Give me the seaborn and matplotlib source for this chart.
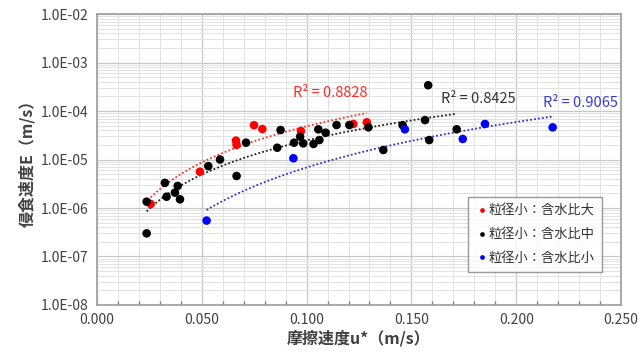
import numpy as np
import pandas as pd
import seaborn as sns
import matplotlib.pyplot as plt
from matplotlib.ticker import FuncFormatter, MultipleLocator, LogLocator

# ---- data ----
labels = ['粒径小：含水比大', '粒径小：含水比中', '粒径小：含水比小']

x_large = [0.0256, 0.0491, 0.0663, 0.0666, 0.0749, 0.0789, 0.0973, 0.1223, 0.1287]
y_large = [1.21e-6, 5.6e-6, 2.45e-5, 2.0e-5, 5.1e-5, 4.25e-5, 3.87e-5, 5.4e-5, 5.85e-5]

x_mid = [0.0237, 0.0237, 0.0324, 0.0332, 0.0372, 0.0385, 0.0396, 0.0531, 0.0587,
         0.0666, 0.0711, 0.0860, 0.0876, 0.0940, 0.0969, 0.0984, 0.1033, 0.1056,
         0.1061, 0.1091, 0.1143, 0.1204, 0.1295, 0.1366, 0.1458, 0.1565, 0.1580,
         0.1585, 0.1716]
y_mid = [1.35e-6, 3.0e-7, 3.3e-6, 1.71e-6, 2.07e-6, 2.85e-6, 1.51e-6, 7.3e-6, 1.0e-5,
         4.57e-6, 2.22e-5, 1.75e-5, 4.06e-5, 2.22e-5, 2.95e-5, 2.15e-5, 2.09e-5, 4.19e-5,
         2.52e-5, 3.57e-5, 5.14e-5, 5.14e-5, 4.6e-5, 1.57e-5, 5.1e-5, 6.5e-5, 3.4e-4,
         2.52e-5, 4.2e-5]

x_small = [0.0523, 0.0937, 0.1469, 0.1745, 0.1851, 0.2174]
y_small = [5.5e-7, 1.06e-5, 4.19e-5, 2.65e-5, 5.4e-5, 4.6e-5]

r2_text = ['R² = 0.8828', 'R² = 0.8425', 'R² = 0.9065']
r2_pos = [(0.0935, 2.3e-4), (0.164, 1.77e-4), (0.2126, 1.46e-4)]

df = pd.concat([
    pd.DataFrame({'u': x_large, 'E': y_large, 'group': labels[0]}),
    pd.DataFrame({'u': x_mid, 'E': y_mid, 'group': labels[1]}),
    pd.DataFrame({'u': x_small, 'E': y_small, 'group': labels[2]}),
])

dot_colors = ['#ff0000', '#000000', '#0000ff']
line_colors = ['#ff3030', '#202020', '#3030c8']
text_colors = ['#ff2a2a', '#333333', '#3a3ad0']

sns.set_theme(style='white')
plt.rcParams['font.family'] = ['Noto Sans CJK JP', 'DejaVu Sans']

fig = plt.figure(figsize=(6.41, 3.64), dpi=100)
ax = fig.add_axes([0.1513, 0.1621, 0.8175, 0.7994])

sns.scatterplot(data=df, x='u', y='E', hue='group', palette=dict(zip(labels, dot_colors)),
                s=38, edgecolor='none', ax=ax, zorder=3)

# power-law trend lines (Excel style)
for (xs, ys), lc in zip([(x_large, y_large), (x_mid, y_mid), (x_small, y_small)], line_colors):
    b, a = np.polyfit(np.log(xs), np.log(ys), 1)
    xx = np.linspace(min(xs), max(xs), 100)
    ax.plot(xx, np.exp(a) * xx ** b, linestyle=(0, (1, 1.2)), color=lc, lw=1.3, zorder=2)

ax.set_yscale('log')
ax.set_xlim(0, 0.25)
ax.set_ylim(1e-8, 1e-2)
ax.xaxis.set_major_locator(MultipleLocator(0.05))
ax.xaxis.set_minor_locator(MultipleLocator(0.01))
ax.yaxis.set_major_locator(LogLocator(base=10, numticks=10))
ax.yaxis.set_minor_locator(LogLocator(base=10, subs=np.arange(2, 10), numticks=20))
ax.xaxis.set_major_formatter(FuncFormatter(lambda v, p: f'{v:.3f}'))
ax.yaxis.set_major_formatter(FuncFormatter(lambda v, p: f'{v:.1E}'))

ax.grid(which='major', color='#c8c8c8', lw=0.9)
ax.grid(which='minor', color='#e2e2e2', lw=0.7)
ax.set_axisbelow(True)
for sp in ax.spines.values():
    sp.set_color('#a0a0a0')
ax.tick_params(axis='both', which='major', labelsize=10, colors='#404040', length=0, pad=6)
ax.tick_params(axis='x', which='minor', direction='in', length=3, color='#808080', bottom=True)

ax.set_xlabel('摩擦速度u*（m/s）', fontsize=11.5, fontweight='bold', color='#404040', labelpad=2)
ax.set_ylabel('侵食速度E（m/s）', fontsize=11.5, fontweight='bold', color='#404040', labelpad=4)

for txt, (tx, ty), tc in zip(r2_text, r2_pos, text_colors):
    ax.text(tx, ty, txt, color=tc, fontsize=10.5, va='center')

leg = ax.legend(loc='lower right', bbox_to_anchor=(0.964, 0.113), borderaxespad=0,
                frameon=True, fancybox=False, fontsize=9.5, markerscale=0.55,
                handletextpad=0.0, labelspacing=0.8, borderpad=0.55, handlelength=1.0)
leg.get_frame().set_edgecolor('#808080')
leg.get_frame().set_linewidth(1.0)
for t in leg.get_texts():
    t.set_color('#333333')

fig.savefig('out.png', dpi=100)
